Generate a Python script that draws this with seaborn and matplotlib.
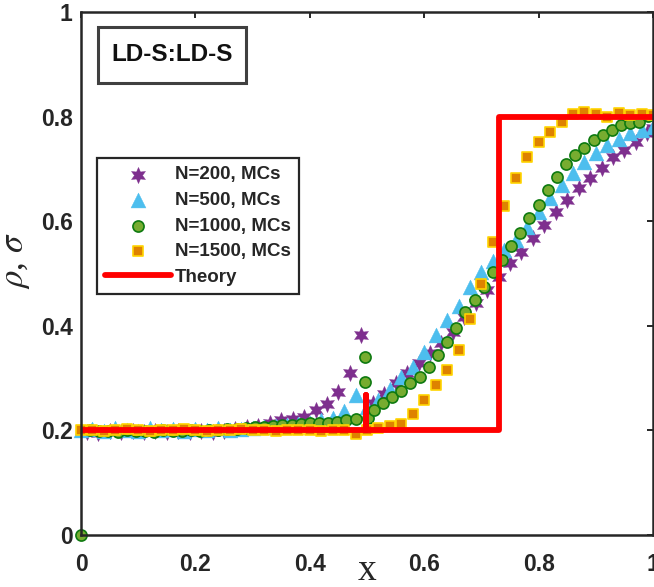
import numpy as np
import pandas as pd
import seaborn as sns
import matplotlib.pyplot as plt
from matplotlib.patches import Rectangle

# N=200 (stars), sampled at x = 0.01, 0.03, ..., 0.99 and x = 1
x_200 = [0.01, 0.03, 0.05, 0.07, 0.09, 0.11, 0.13, 0.15, 0.17, 0.19,
         0.21, 0.23, 0.25, 0.27, 0.29, 0.31, 0.33, 0.35, 0.37, 0.39,
         0.41, 0.43, 0.45, 0.47, 0.49, 0.51, 0.53, 0.55, 0.57, 0.59,
         0.61, 0.63, 0.65, 0.67, 0.69, 0.71, 0.73, 0.75, 0.77, 0.79,
         0.81, 0.83, 0.85, 0.87, 0.89, 0.91, 0.93, 0.95, 0.97, 0.99, 1.00]
y_200 = [0.197, 0.195, 0.198, 0.196, 0.199, 0.196, 0.198, 0.197, 0.199, 0.196,
         0.198, 0.197, 0.199, 0.203, 0.206, 0.209, 0.214, 0.220, 0.222, 0.226,
         0.239, 0.250, 0.273, 0.310, 0.382, 0.252, 0.270, 0.290, 0.310, 0.329,
         0.348, 0.367, 0.388, 0.417, 0.444, 0.468, 0.493, 0.520, 0.541, 0.568,
         0.593, 0.618, 0.640, 0.663, 0.683, 0.702, 0.723, 0.736, 0.751, 0.768, 0.778]

# N=500 (triangles), x = 0, 0.02, ..., 1
x_500 = [0.00, 0.02, 0.04, 0.06, 0.08, 0.10, 0.12, 0.14, 0.16, 0.18,
         0.20, 0.22, 0.24, 0.26, 0.28, 0.30, 0.32, 0.34, 0.36, 0.38,
         0.40, 0.42, 0.44, 0.46, 0.48, 0.50, 0.52, 0.54, 0.56, 0.58,
         0.60, 0.62, 0.64, 0.66, 0.68, 0.70, 0.72, 0.74, 0.76, 0.78,
         0.80, 0.82, 0.84, 0.86, 0.88, 0.90, 0.92, 0.94, 0.96, 0.98, 1.00]
y_500 = [0.200, 0.203, 0.199, 0.204, 0.201, 0.198, 0.205, 0.200, 0.203, 0.199,
         0.202, 0.200, 0.204, 0.201, 0.203, 0.205, 0.206, 0.208, 0.210, 0.212,
         0.215, 0.220, 0.223, 0.237, 0.268, 0.245, 0.258, 0.280, 0.302, 0.322,
         0.350, 0.382, 0.411, 0.437, 0.475, 0.503, 0.523, 0.545, 0.564, 0.589,
         0.618, 0.645, 0.669, 0.692, 0.714, 0.730, 0.746, 0.758, 0.768, 0.774, 0.781]

# N=1000 (circles), x step 0.016, two extra points at the junction
x_1000 = [0.000, 0.016, 0.032, 0.048, 0.064, 0.080, 0.096, 0.112, 0.128, 0.144,
          0.160, 0.176, 0.192, 0.208, 0.224, 0.240, 0.256, 0.272, 0.288, 0.304,
          0.320, 0.336, 0.352, 0.368, 0.384, 0.400, 0.416, 0.432, 0.448, 0.464,
          0.480, 0.496, 0.496, 0.502, 0.512, 0.528, 0.544, 0.560, 0.576, 0.592,
          0.608, 0.624, 0.640, 0.656, 0.672, 0.688, 0.704, 0.720, 0.736, 0.752,
          0.768, 0.784, 0.800, 0.816, 0.832, 0.848, 0.864, 0.880, 0.896, 0.912,
          0.928, 0.944, 0.960, 0.976, 0.992]
y_1000 = [0.000, 0.200, 0.198, 0.199, 0.197, 0.200, 0.198, 0.199, 0.197, 0.200,
          0.199, 0.198, 0.200, 0.199, 0.201, 0.200, 0.202, 0.203, 0.204, 0.206,
          0.207, 0.209, 0.210, 0.211, 0.212, 0.214, 0.214, 0.215, 0.216, 0.220,
          0.222, 0.340, 0.293, 0.224, 0.239, 0.252, 0.264, 0.276, 0.290, 0.302,
          0.321, 0.344, 0.369, 0.396, 0.427, 0.449, 0.474, 0.502, 0.526, 0.553,
          0.578, 0.607, 0.631, 0.660, 0.684, 0.709, 0.727, 0.739, 0.755, 0.765,
          0.774, 0.784, 0.787, 0.789, 0.801]

# N=1500 (squares), x = 0, 0.02, ..., 1
x_1500 = x_500
y_1500 = [0.200, 0.201, 0.199, 0.200, 0.202, 0.200, 0.199, 0.201, 0.200, 0.202,
          0.200, 0.199, 0.201, 0.200, 0.202, 0.200, 0.201, 0.199, 0.200, 0.201,
          0.200, 0.199, 0.200, 0.201, 0.194, 0.200, 0.204, 0.208, 0.212, 0.231,
          0.258, 0.286, 0.315, 0.354, 0.413, 0.479, 0.561, 0.629, 0.682, 0.723,
          0.751, 0.770, 0.790, 0.805, 0.809, 0.805, 0.800, 0.806, 0.803, 0.805, 0.803]

# theory curve
x_th = [0.0, 0.498, 0.498, 0.498, 0.73, 0.73, 1.0]
y_th = [0.2, 0.2, 0.267, 0.2, 0.2, 0.8, 0.8]

xticks = [0, 0.2, 0.4, 0.6, 0.8, 1]
tick_labels = ["0", "0.2", "0.4", "0.6", "0.8", "1"]

sns.set_style("white")
plt.rcParams["font.family"] = ["Liberation Sans", "DejaVu Sans"]
plt.rcParams["mathtext.fontset"] = "stix"

fig = plt.figure(figsize=(6.54, 5.87), dpi=100)
ax = fig.add_axes([0.1239, 0.0886, 0.8746, 0.891])

df200 = pd.DataFrame({"x": x_200, "y": y_200})
df500 = pd.DataFrame({"x": x_500, "y": y_500})
df1000 = pd.DataFrame({"x": x_1000, "y": y_1000})
df1500 = pd.DataFrame({"x": x_1500, "y": y_1500})
dfth = pd.DataFrame({"x": x_th, "y": y_th})

sns.scatterplot(data=df200, x="x", y="y", ax=ax, marker=(6, 1, 0), s=135,
                color="#7E2F8E", edgecolor="#7E2F8E", linewidth=0.3,
                label="N=200, MCs", clip_on=False)
sns.scatterplot(data=df500, x="x", y="y", ax=ax, marker="^", s=115,
                color="#4DBEEE", edgecolor="#4DBEEE", linewidth=0.3,
                label="N=500, MCs", clip_on=False)
sns.scatterplot(data=df1000, x="x", y="y", ax=ax, marker="o", s=64,
                color="#77AC30", edgecolor="#0E7A10", linewidth=1.2,
                label="N=1000, MCs", clip_on=False)
sns.scatterplot(data=df1500, x="x", y="y", ax=ax, marker="s", s=58,
                color="#DE8200", edgecolor="#FFD400", linewidth=1.2,
                label="N=1500, MCs", clip_on=False)
sns.lineplot(data=dfth, x="x", y="y", ax=ax, sort=False, estimator=None,
             color="#FF0000", linewidth=4.2, label="Theory")

ax.set_xlim(0, 1)
ax.set_ylim(0, 1)
ax.set_xticks(xticks)
ax.set_xticklabels(tick_labels)
ax.set_yticks(xticks)
ax.set_yticklabels(tick_labels)
ax.tick_params(direction="in", length=4.5, width=1.4, top=True, right=True,
               labelsize=16.5, colors="#262626")
ax.tick_params(axis="x", pad=13)
ax.tick_params(axis="y", pad=6)
for lab in ax.get_xticklabels() + ax.get_yticklabels():
    lab.set_fontweight("bold")
for sp in ax.spines.values():
    sp.set_linewidth(1.8)
    sp.set_color("#262626")

ax.set_xlabel("x", fontsize=27, family="Liberation Serif", color="#262626")
ax.xaxis.set_label_coords(0.5, -0.036)
ax.set_ylabel(r"$\rho$, $\sigma$", fontsize=25, color="#262626",
              family="Liberation Serif")
ax.yaxis.set_label_coords(-0.086, 0.525)

leg = ax.legend(loc="upper left", bbox_to_anchor=(0.028, 0.721),
                borderaxespad=0, fancybox=False, framealpha=1,
                edgecolor="#262626", handlelength=3.5, handletextpad=0.2,
                labelspacing=0.45, borderpad=0.45,
                prop={"weight": "bold", "size": 13.5})
leg.get_frame().set_linewidth(1.6)

ax.add_patch(Rectangle((0.0297, 0.864), 0.2588, 0.107, transform=ax.transAxes,
                       facecolor="white", edgecolor="#404040", linewidth=2.2,
                       zorder=5))
ax.text(0.159, 0.918, "LD-S:LD-S", transform=ax.transAxes, ha="center",
        va="center", fontsize=17.5, fontweight="bold", color="#111111", zorder=6)

fig.savefig("out.png", dpi=100)
